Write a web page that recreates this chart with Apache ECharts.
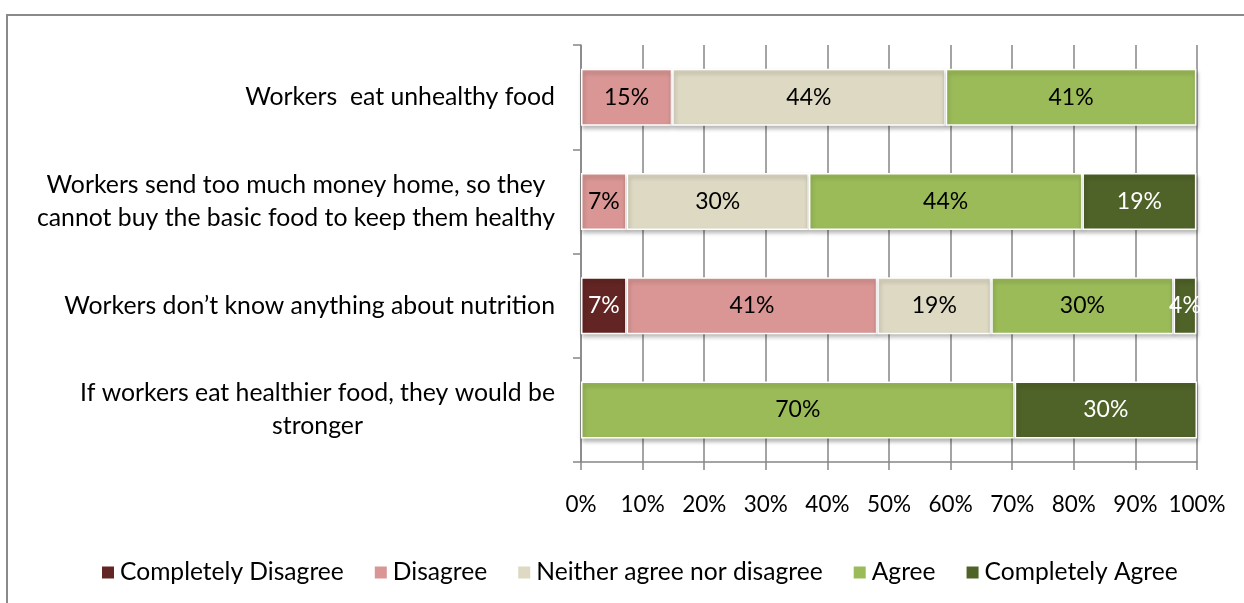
<!DOCTYPE html>
<html>
<head>
<meta charset="utf-8">
<script src="https://cdn.jsdelivr.net/npm/echarts@6/dist/echarts.min.js"></script>
<style>
  html, body { margin: 0; padding: 0; background: #fff; }
  #chart { width: 1244px; height: 603px; }
  #frame {
    position: absolute; left: 6px; top: 14px; width: 1238px; height: 589px;
    border-top: 2px solid #8a8a8a; border-left: 2px solid #8a8a8a;
    pointer-events: none; box-sizing: border-box;
  }
</style>
</head>
<body>
<div id="chart"></div>
<div id="frame"></div>
<script>
// Survey statements, top to bottom
const categories = [
  'Workers  eat unhealthy food',
  'Workers send too much money home, so they\ncannot buy the basic food to keep them healthy',
  'Workers don\u2019t know anything about nutrition',
  'If workers eat healthier food, they would be\nstronger'
];

// Share of answers (%) per statement
const completelyDisagree = [0, 0, 7.4, 0];
const disagree           = [14.8, 7.4, 40.7, 0];
const neither            = [44.4, 29.6, 18.5, 0];
const agree              = [40.7, 44.4, 29.6, 70.4];
const completelyAgree    = [0, 18.5, 3.7, 29.6];

const seriesNames = [
  'Completely Disagree', 'Disagree', 'Neither agree nor disagree', 'Agree', 'Completely Agree'
];
const seriesData = [completelyDisagree, disagree, neither, agree, completelyAgree];
const seriesColors = ['#632523', '#D99694', '#DDD9C3', '#9BBB59', '#4F6228'];
const labelColors  = ['#ffffff', '#000000', '#000000', '#000000', '#ffffff'];

const xTicks = { min: 0, max: 100, interval: 10 };

const FONT = 'Lato';

const chart = echarts.init(document.getElementById('chart'), null, { renderer: 'canvas' });

const series = seriesNames.map((name, i) => ({
  name,
  type: 'bar',
  stack: 'total',
  barWidth: 57,
  data: seriesData[i].map(v => (v === 0 ? '-' : v)),
  itemStyle: {
    color: seriesColors[i],
    borderColor: '#ffffff',
    borderWidth: 1.5,
    shadowColor: 'rgba(0,0,0,0.28)',
    shadowBlur: 4,
    shadowOffsetX: 1,
    shadowOffsetY: 3
  },
  label: {
    show: true,
    position: 'inside',
    color: labelColors[i],
    fontFamily: FONT,
    fontSize: 23,
    formatter: p => (p.value > 0 ? Math.round(p.value) + '%' : '')
  },
  emphasis: { disabled: true }
}));

chart.setOption({
  animation: false,
  textStyle: { fontFamily: FONT },
  grid: { left: 581, right: 47, top: 45, bottom: 141, containLabel: false },
  legend: {
    data: seriesNames,
    left: 100,
    top: 560,
    padding: 0,
    itemWidth: 14,
    itemHeight: 14,
    itemGap: 29,
    icon: 'rect',
    textStyle: { fontFamily: FONT, fontSize: 24.6, color: '#000' }
  },
  xAxis: {
    type: 'value',
    min: xTicks.min,
    max: xTicks.max,
    interval: xTicks.interval,
    axisLine: { show: true, lineStyle: { color: '#868686', width: 1.5 } },
    axisTick: { show: true, length: 8, lineStyle: { color: '#868686', width: 1.5 } },
    axisLabel: { formatter: '{value}%', margin: 31, fontSize: 22.5, color: '#000', fontFamily: FONT },
    splitLine: { show: true, lineStyle: { color: '#868686', width: 1.5 } }
  },
  yAxis: {
    type: 'category',
    inverse: true,
    data: categories,
    axisLine: { show: true, lineStyle: { color: '#868686', width: 1.5 } },
    axisTick: { show: true, length: 8, lineStyle: { color: '#868686', width: 1.5 } },
    axisLabel: {
      margin: 26,
      color: '#000',
      fontFamily: FONT,
      fontSize: 24.8,
      lineHeight: 33,
      formatter: v => v.split('\n').map(l => '{c|' + l + '}').join('\n'),
      rich: { c: { align: 'center', fontFamily: FONT, fontSize: 24.8, lineHeight: 33, color: '#000' } }
    },
    splitLine: { show: false }
  },
  series
});
</script>
</body>
</html>
